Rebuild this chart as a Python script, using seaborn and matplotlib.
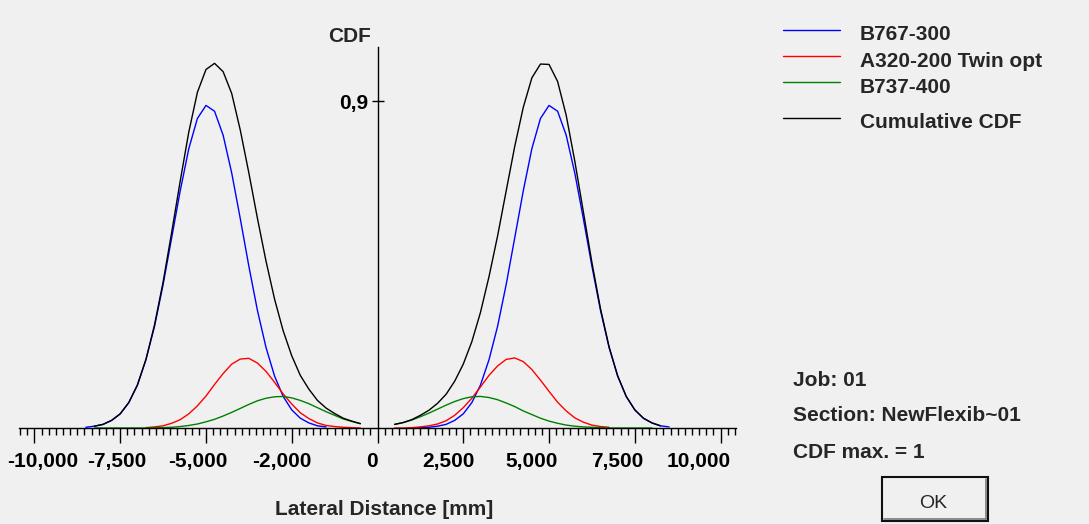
import numpy as np
import pandas as pd
import matplotlib
matplotlib.use('Agg')
import matplotlib.pyplot as plt
import matplotlib.transforms as mtransforms
from matplotlib.lines import Line2D
from matplotlib.patches import Rectangle
from matplotlib.ticker import MultipleLocator
import seaborn as sns

lateral_mm = list(range(-8500, 8501, 250))

# B767-300 (blue), two lobes
b767_left = [0.002, 0.005, 0.010, 0.021, 0.039, 0.070, 0.118, 0.188, 0.280, 0.395,
             0.524, 0.654, 0.770, 0.853, 0.889, 0.873, 0.807, 0.703, 0.577, 0.446,
             0.324, 0.222, 0.143, 0.087, 0.050, 0.027, 0.014, 0.006, 0.003]
b767_right = [0.000, 0.001, 0.002, 0.005, 0.010, 0.021, 0.039, 0.070, 0.118, 0.188,
              0.280, 0.395, 0.524, 0.654, 0.770, 0.853, 0.889, 0.873, 0.807, 0.703,
              0.577, 0.446, 0.324, 0.222, 0.143, 0.087, 0.050, 0.027, 0.014, 0.006, 0.003]
b767 = b767_left + [None] * 9 + b767_right

# A320-200 Twin opt (red)
a320_left = [0.001, 0.003, 0.006, 0.013, 0.023, 0.039, 0.061, 0.088, 0.120, 0.150,
             0.176, 0.190, 0.192, 0.179, 0.156, 0.126, 0.094, 0.066, 0.042, 0.026,
             0.014, 0.007, 0.004, 0.002, 0.001, 0.000]
a320_right = [0.000, 0.000, 0.001, 0.003, 0.006, 0.011, 0.020, 0.035, 0.056, 0.082,
              0.113, 0.145, 0.171, 0.189, 0.193, 0.183, 0.161, 0.132, 0.101, 0.071,
              0.047, 0.028, 0.016, 0.008, 0.004, 0.002]
a320 = [None] * 7 + a320_left + [None] * 3 + a320_right + [None] * 7

# B737-400 (green)
b737_left = [0.000, 0.000, 0.000, 0.000, 0.000, 0.000, 0.000, 0.001, 0.001, 0.002,
             0.004, 0.007, 0.011, 0.017, 0.024, 0.033, 0.043, 0.054, 0.065, 0.075,
             0.082, 0.086, 0.087, 0.083, 0.076, 0.067, 0.056, 0.045, 0.035, 0.025,
             0.018, 0.012]
b737_right = [0.010, 0.015, 0.022, 0.031, 0.041, 0.052, 0.063, 0.073, 0.081, 0.086,
              0.087, 0.084, 0.078, 0.069, 0.059, 0.047, 0.037, 0.027, 0.019, 0.013,
              0.008, 0.005, 0.003, 0.002, 0.001, 0.000, 0.000, 0.000, 0.000, 0.000, 0.000]
b737 = [None] + b737_left + [None] * 3 + b737_right + [None] * 2

# Cumulative CDF (black)
cum_left = [0.005, 0.010, 0.021, 0.039, 0.070, 0.118, 0.189, 0.284, 0.402, 0.539,
            0.681, 0.816, 0.925, 0.988, 1.005, 0.982, 0.922, 0.821, 0.703, 0.578,
            0.460, 0.355, 0.268, 0.199, 0.145, 0.107, 0.076, 0.055, 0.040, 0.027,
            0.019, 0.012]
cum_right = [0.010, 0.015, 0.023, 0.035, 0.049, 0.068, 0.093, 0.129, 0.176, 0.238,
             0.318, 0.417, 0.529, 0.653, 0.776, 0.884, 0.965, 1.003, 1.002, 0.955,
             0.862, 0.736, 0.596, 0.456, 0.329, 0.224, 0.144, 0.087, 0.050, 0.027,
             0.014, 0.006]
cumulative = [None] + cum_left + [None] * 3 + cum_right + [None]

names = ['B767-300', 'A320-200 Twin opt', 'B737-400', 'Cumulative CDF']
colors = ['#0000FF', '#FF0000', '#008000', '#000000']

tick_values = [-10000, -7500, -5000, -2500, 0, 2500, 5000, 7500, 10000]
tick_labels = ['-10,000', '-7,500', '-5,000', '-2,000', '0', '2,500', '5,000', '7,500', '10,000']

rows = []
for name, vals in zip(names, [b767, a320, b737, cumulative]):
    for x, v in zip(lateral_mm, vals):
        if v is None:
            continue
        rows.append((x, v, name, 'L' if x < 0 else 'R'))
df = pd.DataFrame(rows, columns=['x', 'cdf', 'aircraft', 'lobe'])

BG = '#F0F0F0'
W, H = 1089, 524
sns.set_theme(style='white')
plt.rcParams['font.family'] = ['Liberation Sans', 'DejaVu Sans']
plt.rcParams['font.weight'] = 'bold'

fig = plt.figure(figsize=(W / 100, H / 100), dpi=100, facecolor=BG)
ax = fig.add_axes([19 / W, 1 - 428 / H, 717 / W, 381 / H], facecolor=BG)

sns.lineplot(data=df, x='x', y='cdf', hue='aircraft', units='lobe', estimator=None,
             hue_order=names, palette=colors, linewidth=1.0, legend=False, ax=ax)

ax.set_xlim(-10450, 10450)
ax.set_ylim(0, 1.05)
ax.spines['left'].set_position(('data', 0))
ax.spines['bottom'].set_position(('data', 0))
ax.spines['top'].set_visible(False)
ax.spines['right'].set_visible(False)
for s in ['left', 'bottom']:
    ax.spines[s].set_color('black')
    ax.spines[s].set_linewidth(1.0)

ax.set_xticks(tick_values)
ax.set_xticklabels(tick_labels, fontsize=15, fontweight='bold')
ax.xaxis.set_minor_locator(MultipleLocator(2500 / 12))
ax.tick_params(axis='x', which='both', bottom=True, top=False)
ax.tick_params(axis='x', which='major', direction='out', length=11, width=1.0, pad=6.5, colors='black')
ax.tick_params(axis='x', which='minor', direction='out', length=5, width=1.0, colors='black')
ax.set_yticks([0.9])
ax.set_yticklabels(['0,9'], fontsize=15, fontweight='bold')
ax.tick_params(axis='y', which='major', left=True, right=False, direction='inout',
               length=9, width=1.0, pad=2, colors='black')
ax.set_xlabel('')
ax.set_ylabel('')

# tick labels sit a little off their ticks in the original
offsets = [8, -3, -8, -10, -6, -15, -17, -18, -22]
for lbl, dx in zip(ax.get_xticklabels(), offsets):
    lbl.set_transform(lbl.get_transform() + mtransforms.ScaledTranslation(dx / 100, 0, fig.dpi_scale_trans))

fig.text(328 / W, 1 - 42 / H, 'CDF', fontsize=15, fontweight='bold', va='baseline')
fig.text(275 / W, 1 - 515 / H, 'Lateral Distance [mm]', fontsize=15, fontweight='bold', va='baseline')

# legend
legend_rows = [(30, 40), (56, 67), (82, 93), (118, 128)]
for (yl, yt), name, c in zip(legend_rows, names, colors):
    fig.add_artist(Line2D([783 / W, 840 / W], [1 - yl / H] * 2, color=c, lw=1.0))
    fig.text(860 / W, 1 - yt / H, name, fontsize=15, fontweight='bold', va='baseline')

fig.text(793 / W, 1 - 386 / H, 'Job: 01', fontsize=15, fontweight='bold', va='baseline')
fig.text(793 / W, 1 - 421 / H, 'Section: NewFlexib~01', fontsize=15, fontweight='bold', va='baseline')
fig.text(793 / W, 1 - 458 / H, 'CDF max. = 1', fontsize=15, fontweight='bold', va='baseline')

# OK button
fig.add_artist(Rectangle((882 / W, 1 - 521 / H), 106 / W, 44 / H, transform=fig.transFigure,
                         facecolor=BG, edgecolor='#101010', lw=1.5))
fig.add_artist(Line2D([884 / W, 986 / W], [1 - 518.5 / H] * 2, color='#7a7a7a', lw=1.2))
fig.add_artist(Line2D([985.5 / W] * 2, [1 - 518.5 / H, 1 - 479 / H], color='#7a7a7a', lw=1.2))
fig.text(933 / W, 1 - 508 / H, 'OK', fontsize=14, fontweight='normal', ha='center', va='baseline')

fig.savefig('out.png', dpi=100, facecolor=BG)
